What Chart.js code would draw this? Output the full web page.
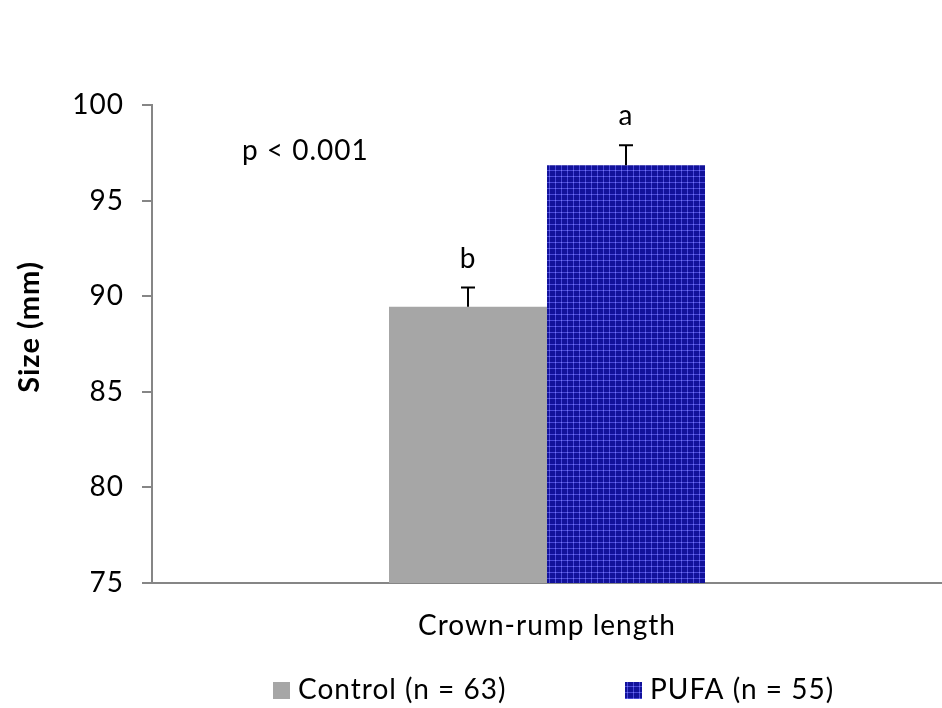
<!DOCTYPE html>
<html>
<head>
<meta charset="utf-8">
<script src="https://cdn.jsdelivr.net/npm/chart.js@4.4.0/dist/chart.umd.min.js"></script>
<style>
html,body{margin:0;padding:0;background:#fff;overflow:hidden;}
#wrap{width:942px;height:708px;position:relative;}
</style>
</head>
<body>
<div id="wrap"><canvas id="c" width="942" height="708"></canvas></div>
<script>
const categories = ["Crown-rump length"];
const seriesNames = ["Control (n = 63)", "PUFA (n = 55)"];
const controlValues = [89.45];
const pufaValues = [96.85];
const controlErrors = [1.0];
const pufaErrors = [1.05];
const sigLetters = [["b"], ["a"]];
const yTicks = [75, 80, 85, 90, 95, 100];
const pLabel = "p < 0.001";
const yTitle = "Size (mm)";

const FONT = "Lato, 'Open Sans', sans-serif";
const SPACING = '1px';

function makePattern() {
  const p = document.createElement('canvas');
  p.width = 6; p.height = 6;
  const g = p.getContext('2d');
  g.fillStyle = '#12129a';
  g.fillRect(0,0,6,6);
  g.fillStyle = '#4848d8';
  g.fillRect(0,2,6,1);
  g.fillRect(3,0,1,6);
  g.fillStyle = '#7a7aee';
  g.fillRect(3,2,1,1);
  return document.getElementById('c').getContext('2d').createPattern(p, 'repeat');
}
const pufaPattern = makePattern();

const spacingPlugin = {
  id: 'spacing',
  beforeLayout(chart) { chart.ctx.letterSpacing = SPACING; },
  beforeDraw(chart) { chart.ctx.letterSpacing = SPACING; }
};

const errorPlugin = {
  id: 'errs',
  afterDatasetsDraw(chart) {
    const ctx = chart.ctx;
    const y = chart.scales.y;
    const errs = [controlErrors, pufaErrors];
    const vals = [controlValues, pufaValues];
    ctx.save();
    ctx.letterSpacing = SPACING;
    ctx.strokeStyle = '#000';
    ctx.lineWidth = 2;
    ctx.fillStyle = '#000';
    ctx.font = '28px ' + FONT;
    ctx.textAlign = 'center';
    ctx.textBaseline = 'alphabetic';
    for (let d = 0; d < 2; d++) {
      const meta = chart.getDatasetMeta(d);
      meta.data.forEach((bar, i) => {
        const x = Math.round(bar.x);
        const top = y.getPixelForValue(vals[d][i]);
        const et = y.getPixelForValue(vals[d][i] + errs[d][i]);
        ctx.beginPath();
        ctx.moveTo(x, top);
        ctx.lineTo(x, et);
        ctx.moveTo(x - 7, et);
        ctx.lineTo(x + 7, et);
        ctx.stroke();
        ctx.fillText(sigLetters[d][i], x, et - 20);
      });
    }
    // p label
    const xs = chart.scales.x;
    ctx.textAlign = 'left';
    ctx.textBaseline = 'middle';
    ctx.fillText(pLabel, xs.left + 90, y.getPixelForValue(97.6));
    // y title
    ctx.save();
    ctx.translate(30, (y.top + y.bottom) / 2 - 17);
    ctx.rotate(-Math.PI / 2);
    ctx.textAlign = 'center';
    ctx.textBaseline = 'middle';
    ctx.font = 'bold 29px ' + FONT;
    ctx.fillText(yTitle, 0, 0);
    ctx.restore();
    // legend
    ctx.font = '28px ' + FONT;
    ctx.textBaseline = 'middle';
    ctx.textAlign = 'left';
    const ly = 690;
    const items = [[273, '#a6a6a6', seriesNames[0]], [625, pufaPattern, seriesNames[1]]];
    items.forEach(([lx, col, txt]) => {
      ctx.fillStyle = col;
      ctx.fillRect(lx, ly - 8, 17, 17);
      ctx.fillStyle = '#000';
      ctx.fillText(txt, lx + 25, ly);
    });
    ctx.restore();
  }
};

new Chart(document.getElementById('c'), {
  type: 'bar',
  data: {
    labels: categories,
    datasets: [
      { label: seriesNames[0], data: controlValues, backgroundColor: '#a6a6a6', borderWidth: 0 },
      { label: seriesNames[1], data: pufaValues, backgroundColor: pufaPattern, borderWidth: 0 }
    ]
  },
  options: {
    responsive: false,
    animation: false,
    layout: { padding: { top: 105, left: 0, right: -6, bottom: 0 } },
    plugins: { legend: { display: false }, tooltip: { enabled: false } },
    datasets: { bar: { categoryPercentage: 0.4, barPercentage: 1.0 } },
    scales: {
      x: {
        grid: { display: false, drawTicks: false },
        border: { display: true, color: '#868686', width: 2 },
        ticks: { color: '#000', font: { size: 28, family: FONT }, padding: 26 },
        afterFit(s) { s.height = 125; }
      },
      y: {
        min: 75, max: 100,
        afterBuildTicks(s) { s.ticks = yTicks.map(v => ({ value: v })); },
        grid: { display: true, drawOnChartArea: false, drawTicks: true, tickLength: 10, color: '#868686', lineWidth: 2 },
        border: { display: true, color: '#868686', width: 2 },
        ticks: { color: '#000', font: { size: 28, family: FONT }, padding: 18 },
        afterFit(s) { s.width = 152; }
      }
    }
  },
  plugins: [spacingPlugin, errorPlugin]
});
</script>
</body>
</html>
